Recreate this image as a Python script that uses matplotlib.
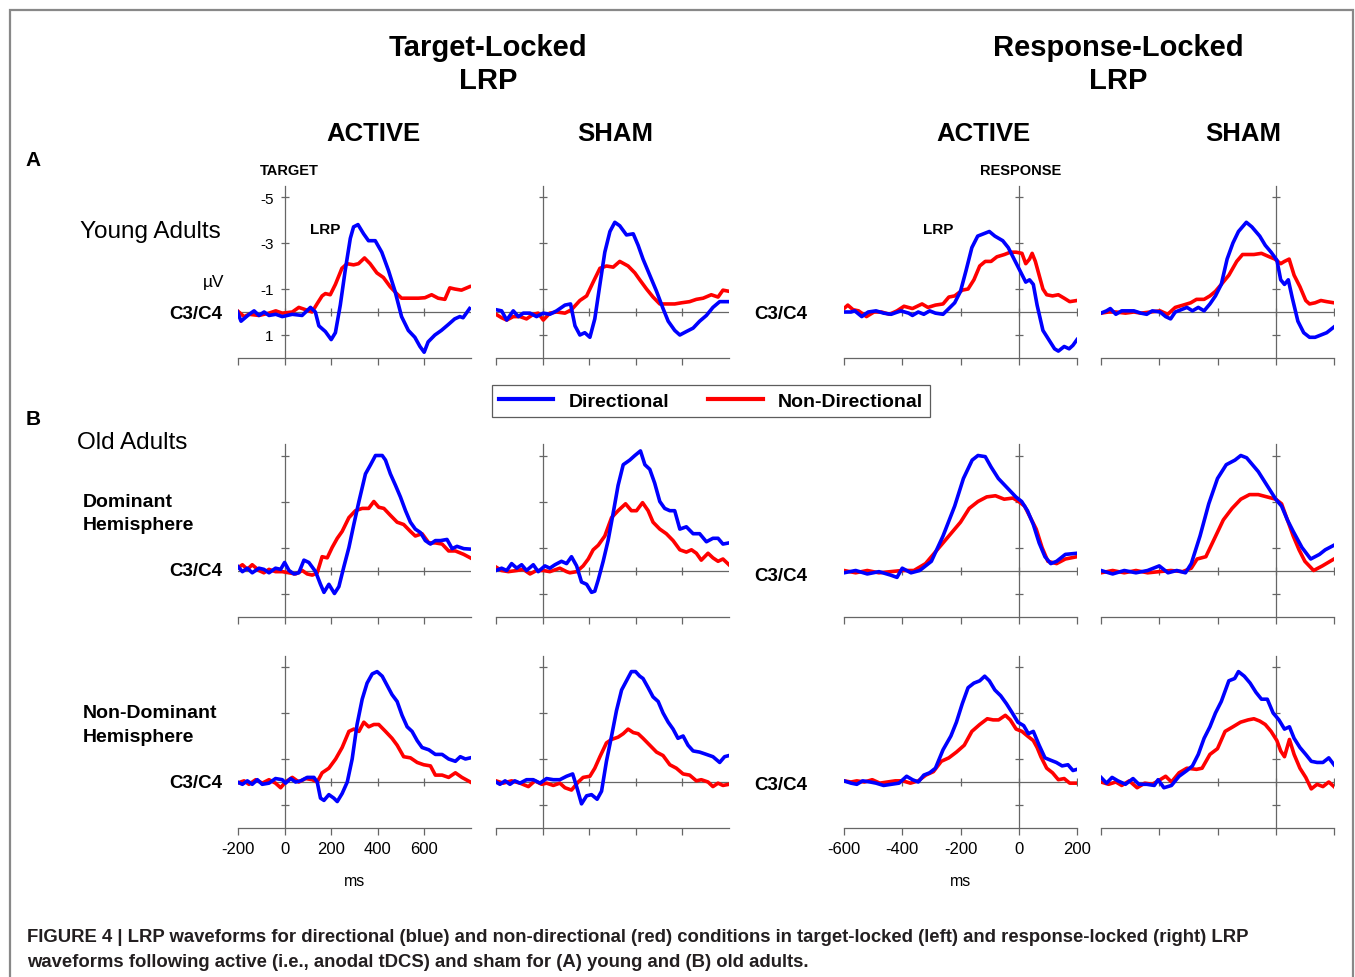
import matplotlib.pyplot as plt
from matplotlib.lines import Line2D
from matplotlib.patches import Rectangle

plt.rcParams['font.family'] = ['Liberation Sans', 'DejaVu Sans']

W, H = 1355, 978

target_ticks = [-200, 0, 200, 400, 600]
response_ticks = [-600, -400, -200, 0, 200]
uv_ticks = [-5, -3, -1, 1]
uv_labels = ['-5', '-3', '-1', '1']

# (ms, µV); negative is up
# young adults, target-locked
young_t_active_dir = [(-202, 0.0), (-187, 0.4), (-152, 0.1), (-131, -0.05), (-110, 0.15), (-88, 0.0), (-67, 0.15),
                      (-38, 0.1), (-10, 0.2), (33, 0.1), (75, 0.15), (111, -0.2), (132, 0.0), (147, 0.6), (175, 0.85),
                      (200, 1.2), (218, 0.9), (239, -0.3), (260, -1.8), (282, -3.2), (296, -3.7), (315, -3.8),
                      (339, -3.4), (360, -3.1), (389, -3.1), (417, -2.6), (446, -1.8), (474, -0.9), (502, 0.2),
                      (531, 0.8), (559, 1.1), (581, 1.5), (599, 1.75), (616, 1.3), (645, 1.0), (673, 0.8), (702, 0.55),
                      (730, 0.3), (752, 0.2), (766, 0.25), (794, -0.15)]
young_t_active_non = [(-202, -0.05), (-174, 0.2), (-152, 0.1), (-110, 0.15), (-67, 0.05), (-38, -0.05), (-10, 0.05),
                      (33, 0.0), (61, -0.2), (90, -0.1), (118, 0.0), (139, -0.35), (161, -0.7), (175, -0.8),
                      (196, -0.75), (218, -1.2), (246, -1.9), (268, -2.1), (296, -2.05), (317, -2.1), (343, -2.35),
                      (367, -2.1), (396, -1.7), (424, -1.5), (453, -1.1), (481, -0.8), (502, -0.6), (531, -0.6),
                      (574, -0.6), (602, -0.62), (631, -0.75), (659, -0.6), (688, -0.55), (709, -1.05), (730, -1.0),
                      (759, -0.95), (794, -1.1)]
young_t_sham_dir = [(-200, -0.1), (-176, -0.05), (-154, 0.35), (-126, -0.05), (-104, 0.2), (-83, 0.05), (-54, 0.05),
                    (-26, 0.2), (3, 0.05), (31, 0.1), (60, -0.05), (96, -0.3), (120, -0.35), (139, 0.6), (160, 1.0),
                    (181, 0.9), (203, 1.1), (224, 0.3), (246, -1.2), (267, -2.6), (289, -3.5), (310, -3.9),
                    (331, -3.75), (360, -3.35), (389, -3.4), (410, -2.9), (431, -2.3), (460, -1.6), (489, -0.9),
                    (517, -0.15), (539, 0.4), (567, 0.8), (589, 1.0), (617, 0.85), (646, 0.7), (674, 0.4), (703, 0.15),
                    (731, -0.2), (760, -0.45), (800, -0.45)]
young_t_sham_non = [(-200, 0.1), (-176, 0.25), (-154, 0.35), (-126, 0.2), (-97, 0.2), (-69, 0.3), (-40, 0.1),
                    (-19, 0.05), (3, 0.35), (31, 0.05), (60, 0.0), (96, 0.05), (124, -0.1), (160, -0.5), (189, -0.7),
                    (217, -1.3), (246, -1.9), (274, -2.0), (303, -1.95), (331, -2.2), (367, -2.0), (396, -1.7),
                    (417, -1.4), (446, -1.0), (474, -0.65), (503, -0.35), (539, -0.35), (567, -0.35), (596, -0.4),
                    (631, -0.45), (660, -0.55), (689, -0.6), (724, -0.75), (753, -0.65), (774, -0.95), (800, -0.9)]

# young adults, response-locked
young_r_active_dir = [(-600, 0.0), (-576, 0.0), (-563, -0.05), (-539, 0.2), (-517, 0.0), (-490, -0.05), (-464, 0.05),
                      (-438, 0.1), (-405, -0.05), (-378, 0.05), (-365, 0.15), (-345, 0.0), (-326, 0.1), (-306, -0.05),
                      (-286, 0.05), (-260, 0.1), (-240, -0.15), (-220, -0.4), (-200, -0.9), (-181, -1.8), (-161, -2.8),
                      (-141, -3.3), (-121, -3.4), (-101, -3.5), (-82, -3.3), (-55, -3.1), (-36, -2.8), (-16, -2.3),
                      (4, -1.8), (24, -1.3), (37, -1.4), (50, -1.2), (63, -0.3), (83, 0.8), (103, 1.2), (123, 1.6),
                      (136, 1.7), (156, 1.5), (173, 1.6), (186, 1.45), (200, 1.2)]
young_r_active_non = [(-600, -0.15), (-587, -0.3), (-569, -0.1), (-550, -0.05), (-523, 0.2), (-497, 0.0), (-471, 0.0),
                      (-444, 0.1), (-418, -0.05), (-394, -0.25), (-365, -0.15), (-332, -0.35), (-312, -0.2),
                      (-286, -0.3), (-260, -0.35), (-240, -0.65), (-220, -0.7), (-194, -0.95), (-174, -1.0),
                      (-154, -1.4), (-134, -2.0), (-115, -2.2), (-95, -2.2), (-75, -2.4), (-49, -2.5), (-29, -2.6),
                      (-9, -2.6), (11, -2.55), (24, -2.1), (37, -2.3), (46, -2.55), (57, -2.2), (70, -1.6), (83, -1.0),
                      (96, -0.75), (116, -0.7), (136, -0.75), (156, -0.6), (175, -0.45), (200, -0.5)]
young_r_sham_dir = [(-600, 0.05), (-581, -0.05), (-568, -0.15), (-549, 0.1), (-529, -0.05), (-508, -0.05),
                    (-487, -0.05), (-463, 0.05), (-443, 0.1), (-424, -0.05), (-397, 0.0), (-378, 0.2), (-361, 0.3),
                    (-345, 0.0), (-325, -0.1), (-305, -0.2), (-286, -0.05), (-266, -0.2), (-246, -0.05), (-226, -0.35),
                    (-207, -0.7), (-187, -1.2), (-167, -2.3), (-147, -3.0), (-128, -3.5), (-101, -3.9), (-82, -3.7),
                    (-55, -3.3), (-36, -2.9), (-16, -2.6), (4, -2.25), (17, -1.4), (30, -1.2), (43, -1.4), (57, -0.6),
                    (76, 0.4), (96, 0.9), (116, 1.1), (135, 1.1), (155, 1.0), (175, 0.9), (200, 0.65)]
young_r_sham_non = [(-600, 0.05), (-574, 0.0), (-549, 0.0), (-516, 0.05), (-487, 0.0), (-463, 0.05), (-430, 0.0),
                    (-397, -0.05), (-371, 0.1), (-345, -0.2), (-318, -0.3), (-292, -0.4), (-272, -0.55), (-246, -0.55),
                    (-226, -0.7), (-207, -0.9), (-187, -1.2), (-161, -1.6), (-134, -2.2), (-114, -2.5), (-95, -2.5),
                    (-75, -2.5), (-49, -2.55), (-22, -2.4), (-3, -2.3), (17, -2.1), (30, -2.2), (46, -2.3), (63, -1.6),
                    (83, -1.1), (103, -0.5), (116, -0.35), (135, -0.4), (155, -0.5), (175, -0.45), (200, -0.4)]

# old adults, dominant hemisphere, target-locked
old_dom_t_active_dir = [(-203, -0.2), (-181, 0.05), (-160, -0.1), (-139, 0.1), (-110, -0.1), (-89, -0.05), (-67, 0.1),
                        (-39, -0.1), (-17, -0.05), (0, -0.35), (19, 0.0), (40, 0.15), (61, 0.1), (83, -0.45),
                        (104, -0.35), (133, 0.05), (154, 0.6), (169, 0.95), (190, 0.6), (214, 1.0), (233, 0.7),
                        (254, -0.15), (276, -1.0), (297, -2.0), (319, -3.0), (347, -4.2), (369, -4.6), (390, -5.0),
                        (419, -5.0), (433, -4.8), (454, -4.2), (476, -3.7), (497, -3.2), (519, -2.6), (540, -2.1),
                        (561, -1.8), (583, -1.65), (604, -1.3), (626, -1.15), (647, -1.3), (669, -1.3), (697, -1.35),
                        (719, -0.95), (740, -1.05), (769, -0.95), (797, -0.93)]
old_dom_t_active_non = [(-203, -0.1), (-181, -0.25), (-160, -0.05), (-139, -0.25), (-110, 0.0), (-89, 0.1),
                        (-67, -0.05), (-39, 0.05), (-10, 0.05), (19, 0.1), (47, 0.15), (76, 0.0), (97, 0.15),
                        (119, 0.2), (140, 0.1), (161, -0.6), (183, -0.55), (204, -1.0), (226, -1.4), (247, -1.7),
                        (276, -2.3), (304, -2.6), (333, -2.7), (361, -2.7), (383, -3.0), (404, -2.75), (426, -2.7),
                        (454, -2.4), (483, -2.1), (511, -2.0), (540, -1.7), (561, -1.5), (590, -1.6), (619, -1.2),
                        (647, -1.2), (676, -1.15), (704, -0.85), (733, -0.85), (769, -0.7), (797, -0.55)]
old_dom_t_sham_dir = [(-200, 0.0), (-176, -0.1), (-154, 0.0), (-133, -0.3), (-111, -0.1), (-90, -0.25), (-69, 0.0),
                      (-40, -0.25), (-19, 0.05), (10, -0.2), (31, -0.1), (53, -0.25), (81, -0.4), (103, -0.3),
                      (124, -0.6), (146, -0.2), (167, 0.5), (189, 0.6), (210, 0.95), (224, 0.9), (239, 0.4),
                      (260, -0.4), (281, -1.3), (303, -2.5), (324, -3.7), (346, -4.6), (374, -4.8), (396, -5.0),
                      (420, -5.2), (439, -4.6), (460, -4.4), (481, -3.8), (503, -3.0), (524, -2.7), (546, -2.6),
                      (567, -2.6), (589, -1.8), (617, -1.9), (646, -1.6), (674, -1.6), (703, -1.25), (731, -1.4),
                      (753, -1.4), (774, -1.15), (800, -1.2)]
old_dom_t_sham_non = [(-200, -0.15), (-176, 0.0), (-147, 0.05), (-111, 0.0), (-83, -0.05), (-54, 0.15), (-26, 0.0),
                      (3, 0.0), (31, 0.05), (74, -0.1), (103, 0.05), (117, 0.1), (146, 0.05), (174, -0.2), (196, -0.5),
                      (217, -0.9), (239, -1.1), (267, -1.5), (296, -2.3), (324, -2.6), (356, -2.9), (381, -2.6),
                      (403, -2.6), (429, -2.95), (453, -2.6), (474, -2.1), (503, -1.8), (531, -1.6), (560, -1.3),
                      (589, -0.9), (617, -0.8), (639, -0.9), (660, -0.75), (681, -0.45), (710, -0.75), (731, -0.55),
                      (753, -0.4), (774, -0.5), (800, -0.25)]

# old adults, dominant hemisphere, response-locked
old_dom_r_active_dir = [(-600, 0.1), (-560, 0.0), (-520, 0.15), (-480, 0.05), (-440, 0.2), (-418, 0.3), (-400, -0.1),
                        (-370, 0.1), (-340, 0.0), (-300, -0.4), (-260, -1.5), (-220, -2.8), (-190, -4.0),
                        (-160, -4.8), (-140, -5.0), (-115, -4.95), (-95, -4.5), (-70, -4.0), (-40, -3.6), (-10, -3.2),
                        (10, -3.0), (30, -2.6), (50, -2.0), (70, -1.2), (90, -0.6), (110, -0.3), (130, -0.4),
                        (160, -0.7), (200, -0.75)]
old_dom_r_active_non = [(-600, 0.0), (-560, 0.1), (-520, 0.0), (-480, 0.1), (-440, 0.05), (-400, 0.0), (-360, 0.0),
                        (-320, -0.3), (-280, -0.9), (-240, -1.5), (-200, -2.1), (-170, -2.7), (-140, -3.0),
                        (-110, -3.2), (-80, -3.25), (-50, -3.1), (-20, -3.15), (0, -3.0), (20, -2.8), (40, -2.3),
                        (60, -1.8), (80, -1.0), (100, -0.4), (130, -0.3), (160, -0.5), (200, -0.6)]
old_dom_r_sham_dir = [(-600, 0.0), (-560, 0.15), (-520, 0.0), (-480, 0.1), (-440, 0.0), (-400, -0.2), (-370, 0.1),
                      (-340, 0.0), (-310, 0.1), (-290, -0.3), (-260, -1.5), (-230, -2.9), (-200, -4.0), (-170, -4.6),
                      (-140, -4.8), (-120, -5.0), (-100, -4.9), (-80, -4.6), (-60, -4.3), (-40, -3.9), (-20, -3.5),
                      (0, -3.1), (20, -2.8), (40, -2.2), (60, -1.7), (90, -1.0), (120, -0.5), (150, -0.7),
                      (170, -0.9), (200, -1.1)]
old_dom_r_sham_non = [(-600, 0.1), (-560, 0.0), (-520, 0.1), (-480, 0.0), (-440, 0.1), (-400, 0.05), (-360, 0.0),
                      (-320, 0.05), (-290, -0.1), (-270, -0.5), (-240, -0.6), (-210, -1.4), (-180, -2.2),
                      (-150, -2.7), (-120, -3.1), (-90, -3.3), (-60, -3.3), (-30, -3.2), (0, -3.1), (20, -2.9),
                      (40, -2.2), (60, -1.5), (80, -0.9), (100, -0.4), (130, 0.0), (160, -0.2), (200, -0.5)]

# old adults, non-dominant hemisphere, target-locked
old_nd_t_active_dir = [(-203, 0.0), (-181, 0.1), (-160, -0.05), (-139, 0.1), (-117, -0.1), (-96, 0.1), (-67, 0.05),
                       (-39, -0.15), (-10, -0.1), (4, 0.05), (26, -0.15), (47, 0.0), (69, -0.05), (97, -0.2),
                       (126, -0.2), (140, 0.0), (154, 0.7), (169, 0.8), (190, 0.55), (211, 0.7), (226, 0.85),
                       (247, 0.5), (269, 0.0), (290, -1.0), (311, -2.5), (333, -3.6), (354, -4.3), (376, -4.7),
                       (397, -4.8), (419, -4.6), (440, -4.2), (461, -3.8), (483, -3.5), (504, -2.9), (526, -2.4),
                       (547, -2.2), (569, -1.8), (590, -1.5), (619, -1.4), (647, -1.2), (676, -1.2), (704, -1.0),
                       (733, -0.9), (754, -1.1), (776, -1.0), (797, -1.05)]
old_nd_t_active_non = [(-203, 0.05), (-174, -0.05), (-153, 0.1), (-124, -0.1), (-96, 0.05), (-67, -0.1), (-39, 0.05),
                       (-17, 0.25), (4, 0.0), (33, -0.2), (61, 0.0), (90, -0.15), (119, -0.1), (140, 0.0),
                       (161, -0.4), (190, -0.6), (219, -1.0), (247, -1.5), (276, -2.2), (297, -2.3), (319, -2.2),
                       (340, -2.6), (361, -2.4), (383, -2.5), (404, -2.5), (433, -2.2), (461, -1.9), (483, -1.6),
                       (511, -1.1), (540, -1.05), (569, -0.85), (597, -0.75), (626, -0.7), (647, -0.3), (676, -0.3),
                       (704, -0.2), (733, -0.4), (761, -0.2), (797, 0.0)]
old_nd_t_sham_dir = [(-200, 0.0), (-183, 0.1), (-161, -0.05), (-140, 0.1), (-119, -0.05), (-97, 0.05), (-69, -0.1),
                     (-40, -0.1), (-11, 0.05), (17, -0.15), (46, -0.1), (74, -0.1), (103, -0.25), (129, -0.35),
                     (146, 0.2), (167, 0.95), (189, 0.6), (210, 0.55), (234, 0.75), (253, 0.4), (274, -0.9),
                     (296, -2.0), (317, -3.1), (339, -4.0), (360, -4.4), (381, -4.8), (399, -4.8), (417, -4.6),
                     (431, -4.5), (453, -4.1), (474, -3.7), (496, -3.5), (517, -3.0), (539, -2.6), (560, -2.3),
                     (581, -1.9), (603, -2.0), (624, -1.6), (646, -1.35), (674, -1.3), (703, -1.2), (731, -1.1),
                     (760, -0.85), (781, -1.1), (800, -1.15)]
old_nd_t_sham_non = [(-200, -0.05), (-169, 0.05), (-133, -0.05), (-97, 0.05), (-61, 0.2), (-33, -0.05), (-4, 0.1),
                     (17, 0.05), (46, 0.15), (74, 0.05), (96, 0.25), (124, 0.35), (153, 0.0), (174, -0.2),
                     (203, -0.25), (224, -0.6), (246, -1.1), (274, -1.7), (296, -1.85), (324, -1.95), (346, -2.1),
                     (367, -2.3), (389, -2.15), (410, -2.1), (431, -1.9), (460, -1.6), (489, -1.3), (517, -1.15),
                     (546, -0.75), (574, -0.6), (603, -0.35), (631, -0.3), (660, -0.05), (681, -0.1), (710, 0.0),
                     (731, 0.2), (753, 0.05), (774, 0.15), (800, 0.1)]

# old adults, non-dominant hemisphere, response-locked
old_nd_r_active_dir = [(-600, -0.05), (-576, 0.05), (-556, 0.1), (-536, -0.05), (-510, 0.0), (-490, 0.05),
                       (-464, 0.15), (-438, 0.1), (-411, 0.05), (-385, -0.25), (-365, -0.1), (-345, 0.0),
                       (-326, -0.3), (-306, -0.4), (-286, -0.6), (-260, -1.4), (-233, -2.0), (-214, -2.6),
                       (-194, -3.4), (-174, -4.1), (-154, -4.3), (-134, -4.4), (-117, -4.6), (-101, -4.4),
                       (-82, -4.0), (-62, -3.75), (-42, -3.4), (-22, -3.0), (-3, -2.6), (17, -2.45), (33, -2.1),
                       (50, -2.2), (70, -1.6), (90, -1.05), (109, -0.95), (129, -0.85), (149, -0.7), (169, -0.75),
                       (186, -0.5), (200, -0.55)]
old_nd_r_active_non = [(-600, -0.05), (-576, 0.0), (-556, -0.05), (-530, 0.0), (-503, -0.1), (-477, 0.05),
                       (-451, 0.0), (-424, -0.05), (-398, -0.05), (-372, 0.05), (-345, -0.05), (-319, -0.3),
                       (-293, -0.45), (-266, -0.9), (-240, -1.05), (-214, -1.3), (-187, -1.6), (-161, -2.2),
                       (-134, -2.5), (-108, -2.75), (-88, -2.7), (-69, -2.7), (-46, -2.9), (-29, -2.7), (-9, -2.3),
                       (11, -2.2), (30, -2.0), (50, -1.8), (63, -1.5), (76, -1.1), (96, -0.6), (116, -0.4),
                       (136, -0.1), (156, -0.15), (175, 0.05), (200, 0.05)]
old_nd_r_sham_dir = [(-600, -0.2), (-581, 0.05), (-562, -0.2), (-542, -0.05), (-516, 0.1), (-490, -0.15), (-470, 0.1),
                     (-443, 0.1), (-417, 0.15), (-404, -0.1), (-384, 0.25), (-358, 0.15), (-332, -0.25),
                     (-305, -0.5), (-286, -0.7), (-266, -1.2), (-246, -1.9), (-226, -2.4), (-207, -3.0),
                     (-187, -3.5), (-161, -4.4), (-141, -4.5), (-128, -4.8), (-108, -4.6), (-88, -4.3), (-68, -3.9),
                     (-49, -3.6), (-29, -3.6), (-9, -3.0), (11, -2.7), (30, -2.3), (47, -2.4), (63, -1.9),
                     (83, -1.5), (103, -1.2), (122, -0.9), (142, -0.85), (162, -0.85), (182, -1.05), (200, -0.75)]
old_nd_r_sham_non = [(-600, 0.0), (-574, 0.1), (-549, 0.0), (-529, 0.15), (-503, -0.05), (-476, 0.25), (-450, 0.05),
                     (-424, 0.1), (-397, -0.1), (-378, -0.25), (-358, 0.0), (-332, -0.4), (-305, -0.6), (-272, -0.55),
                     (-253, -0.6), (-226, -1.2), (-200, -1.45), (-174, -2.2), (-147, -2.4), (-121, -2.6), (-95, -2.7),
                     (-75, -2.75), (-55, -2.65), (-36, -2.5), (-16, -2.2), (4, -1.8), (17, -1.35), (30, -1.1),
                     (47, -1.85), (63, -1.2), (83, -0.6), (103, -0.2), (122, 0.3), (142, 0.1), (162, 0.2), (182, 0.0),
                     (200, 0.2)]

# (row, col, directional, non-directional)
panels = [
    (0, 0, young_t_active_dir, young_t_active_non), (0, 1, young_t_sham_dir, young_t_sham_non),
    (0, 2, young_r_active_dir, young_r_active_non), (0, 3, young_r_sham_dir, young_r_sham_non),
    (1, 0, old_dom_t_active_dir, old_dom_t_active_non), (1, 1, old_dom_t_sham_dir, old_dom_t_sham_non),
    (1, 2, old_dom_r_active_dir, old_dom_r_active_non), (1, 3, old_dom_r_sham_dir, old_dom_r_sham_non),
    (2, 0, old_nd_t_active_dir, old_nd_t_active_non), (2, 1, old_nd_t_sham_dir, old_nd_t_sham_non),
    (2, 2, old_nd_r_active_dir, old_nd_r_active_non), (2, 3, old_nd_r_sham_dir, old_nd_r_sham_non),
]

BLUE, RED, AX_C = '#0000ff', '#ff0000', '#666666'
col_left = [238, 496, 844, 1101]
row_zero = [313, 571.5, 783]
PX_PER_UV = 23
AX_W = 233

fig = plt.figure(figsize=(W / 100, H / 100), dpi=100)


def fx(px):
    return px / W


def fy(py):
    return 1 - py / H


def ty(py):
    # text centres sit a touch high with va='center'
    return fy(py + 2)


for row, col, dirc, nond in panels:
    zero = row_zero[row]
    bottom_px = zero + 2 * PX_PER_UV
    ax = fig.add_axes([fx(col_left[col]), fy(bottom_px), AX_W / W, 7.5 * PX_PER_UV / H])
    target = col < 2
    ticks = target_ticks if target else response_ticks
    ax.set_xlim((-200, 800) if target else (-600, 200))
    ax.set_ylim(2, -5.5)
    ax.patch.set_visible(False)
    for s in ['top', 'right']:
        ax.spines[s].set_visible(False)
    ax.spines['left'].set_position(('data', 0))
    for s in ['left', 'bottom']:
        ax.spines[s].set_color(AX_C)
        ax.spines[s].set_linewidth(0.9)
    ax.axhline(0, color=AX_C, lw=0.9, zorder=1)
    ax.plot(ticks[1:], [0] * (len(ticks) - 1), ls='none', marker='|', ms=6, mew=0.9, color=AX_C, zorder=1)
    ax.set_xticks(ticks)
    ax.set_yticks(uv_ticks)
    ax.tick_params(axis='x', direction='out', length=5, width=0.9, color=AX_C, labelsize=12, pad=4)
    ax.tick_params(axis='y', direction='inout', length=6, width=0.9, color=AX_C, labelsize=11, pad=5)
    if row == 2 and col in (0, 2):
        ax.set_xticklabels([str(t) for t in ticks])
        ax.set_xlabel('ms', fontsize=11.5, labelpad=12.5)
    else:
        ax.set_xticklabels([])
    if row == 0 and col == 0:
        ax.set_yticklabels(uv_labels)
    else:
        ax.set_yticklabels([])
    ax.plot([p[0] for p in nond], [p[1] for p in nond], color=RED, lw=2.6, zorder=3)
    ax.plot([p[0] for p in dirc], [p[1] for p in dirc], color=BLUE, lw=2.6, zorder=4)

# headings
for x, label in [(488, 'Target-Locked'), (1118, 'Response-Locked')]:
    fig.text(fx(x), ty(46), label, ha='center', va='center', fontsize=21, fontweight='bold')
    fig.text(fx(x), ty(79), 'LRP', ha='center', va='center', fontsize=21, fontweight='bold')
for x, label in [(373, 'ACTIVE'), (615, 'SHAM'), (983, 'ACTIVE'), (1243, 'SHAM')]:
    fig.text(fx(x), ty(132), label, ha='center', va='center', fontsize=18.5, fontweight='bold')

fig.text(fx(33), ty(159), 'A', ha='center', va='center', fontsize=15, fontweight='bold')
fig.text(fx(33), ty(418), 'B', ha='center', va='center', fontsize=15, fontweight='bold')
fig.text(fx(289), ty(169), 'TARGET', ha='center', va='center', fontsize=10.5, fontweight='bold')
fig.text(fx(1021), ty(169), 'RESPONSE', ha='center', va='center', fontsize=10.5, fontweight='bold')
fig.text(fx(325), ty(228), 'LRP', ha='center', va='center', fontsize=11, fontweight='bold')
fig.text(fx(938), ty(228), 'LRP', ha='center', va='center', fontsize=11, fontweight='bold')
fig.text(fx(214), ty(280), 'µV', ha='center', va='center', fontsize=12.5)

fig.text(fx(150), ty(230), 'Young Adults', ha='center', va='center', fontsize=17.5)
fig.text(fx(132), ty(441), 'Old Adults', ha='center', va='center', fontsize=17.5)
fig.text(fx(83), ty(501), 'Dominant', ha='left', va='center', fontsize=14, fontweight='bold')
fig.text(fx(83), ty(524), 'Hemisphere', ha='left', va='center', fontsize=14, fontweight='bold')
fig.text(fx(83), ty(712), 'Non-Dominant', ha='left', va='center', fontsize=14, fontweight='bold')
fig.text(fx(83), ty(735), 'Hemisphere', ha='left', va='center', fontsize=14, fontweight='bold')

for x, y in [(222, 313), (222, 570), (222, 781), (807, 313), (807, 575), (807, 784)]:
    fig.text(fx(x), ty(y), 'C3/C4', ha='right', va='center', fontsize=13.5, fontweight='bold')

handles = [Line2D([], [], color=BLUE, lw=3), Line2D([], [], color=RED, lw=3)]
leg = fig.legend(handles, ['Directional', 'Non-Directional'], loc='center', bbox_to_anchor=(fx(711), fy(402)),
                 ncol=2, frameon=True, fancybox=False, edgecolor='#333333', handlelength=2.8,
                 columnspacing=2.0, borderpad=0.35, prop={'weight': 'bold', 'size': 14})
leg.get_frame().set_linewidth(0.9)

# frame and caption
fig.patches.append(Rectangle((fx(10), -0.05), fx(1353) - fx(10), fy(11) + 0.05, transform=fig.transFigure,
                             fill=False, edgecolor='#888888', lw=1.6))
fig.text(fx(27), ty(936), 'FIGURE 4 | LRP waveforms for directional (blue) and non-directional (red) conditions in '
                          'target-locked (left) and response-locked (right) LRP',
         ha='left', va='center', fontsize=13.3, fontweight='bold', color='#231f20')
fig.text(fx(27), ty(961), 'waveforms following active (i.e., anodal tDCS) and sham for (A) young and (B) old adults.',
         ha='left', va='center', fontsize=13.3, fontweight='bold', color='#231f20')

fig.savefig('out.png', dpi=100)
